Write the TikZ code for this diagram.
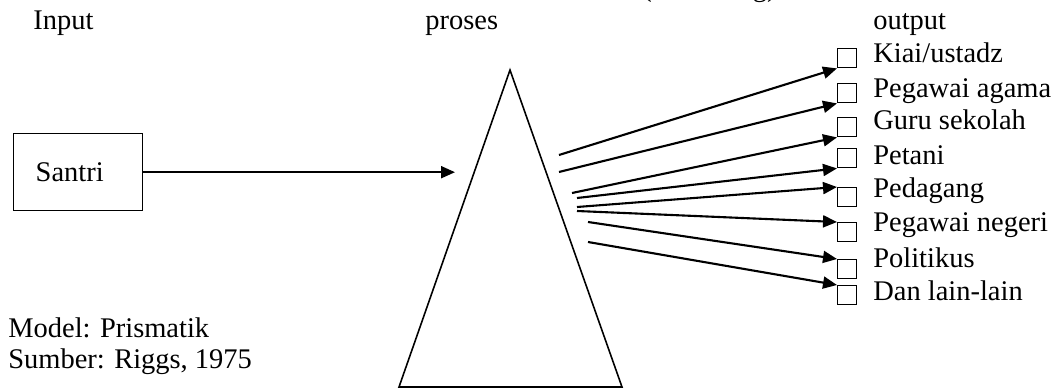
\documentclass[tikz,border=0pt]{standalone}
\usepackage{fontspec}
\setmainfont{Liberation Serif}
\usetikzlibrary{arrows.meta,positioning}

\begin{document}
\begin{tikzpicture}[
  x=0.02cm, y=-0.02cm,
  font=\fontsize{16.2}{19}\selectfont,
  txt/.style={anchor=base west, inner sep=0pt},
  inbox/.style={draw, line width=0.8pt, anchor=north west, minimum height=1.54cm, text width=1.7cm, inner xsep=0.44cm, align=left},
  outbox/.style={draw, line width=0.8pt, anchor=north west, minimum size=0.38cm, inner sep=0pt},
  arrow/.style={-{Triangle[length=2.8mm, width=2.4mm]}, line width=1.2pt},
]
\useasboundingbox (0,0) rectangle (1061,388);

% === Headings ===
\node[txt, anchor=base east] (title) at (777,-3) {(Schooling)};
\node[txt] (hin) at (33,30) {Input};
\node[txt] (hpro) at (425,30) {proses};
\node[txt] (hout) at (873,30) {output};

% === Input ===
\node[inbox] (santri) at (13,133) {Santri};
\coordinate (in) at (455,0);
\draw[arrow] (santri.east) -- (santri.east -| in);

% === Prism ===
\draw[line width=0.9pt] (510,70) coordinate (apex) -- (622,387) -- (399,387) -- cycle;

% === Outputs ===
\foreach \name/\top/\base/\txt in {
  kiai/48/63/Kiai\slash ustadz,
  agama/83/98/Pegawai agama,
  guru/117/130/Guru sekolah,
  petani/148/165/Petani,
  dagang/187/197/Pedagang,
  negeri/222/232/Pegawai negeri,
  politik/259/267/Politikus,
  lain/285/300/Dan lain-lain}{
  \node[outbox] (\name) at (837,\top) {};
  \node[txt] (\name-t) at (873,\base) {\txt};
}

% === Rays ===
\coordinate (s1) at (559,155);
\coordinate (s2) at (559,172);
\coordinate (s3) at (572,193);
\coordinate (s4) at (577,198);
\coordinate (s5) at (577,207);
\coordinate (s6) at (577,211);
\coordinate (s7) at (588,222);
\coordinate (s8) at (588,242);
\draw[arrow] (s1) -- (kiai.south west);
\draw[arrow] (s2) -- (agama.south west);
\draw[arrow] (s3) -- (guru.south west);
\draw[arrow] (s4) -- (petani.south west);
\draw[arrow] (s5) -- (dagang.north west);
\draw[arrow] (s6) -- (negeri.north west);
\draw[arrow] (s7) -- (politik.north west);
\draw[arrow] (s8) -- (lain.north west);

% === Source ===
\node[txt] (model) at (8,337) {Model: Prismatik};
\node[txt] (src) at (8,368) {Sumber: Riggs, 1975};

\end{tikzpicture}
\end{document}
